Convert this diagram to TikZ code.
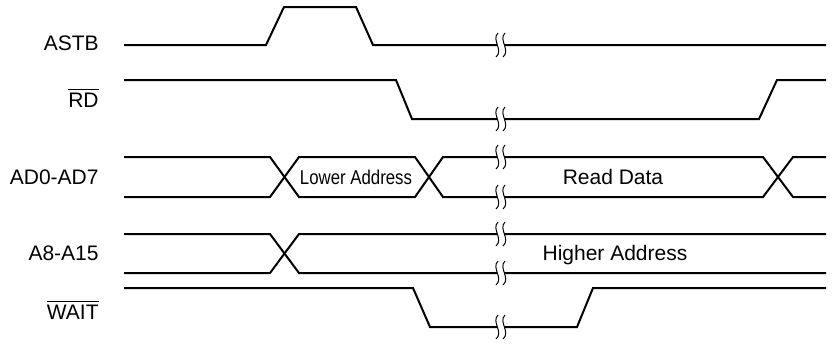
\documentclass[tikz,border=0pt]{standalone}
\usepackage{fontspec}
\setmainfont{Liberation Sans}
\tikzset{
signal/.style={
  line width=1pt,
  draw=black
},
breakmark/.style={
  line width=0.5pt,
  draw=black
},
siglabel/.style={
  font=\fontsize{10.5}{12}\selectfont,
  anchor=base east,
  inner sep=0pt
},
datalabel/.style={
  font=\fontsize{10.5}{12}\selectfont,
  anchor=base,
  inner sep=0pt
}
}
% break symbol on a signal line: x, y
\newcommand{\sigbreak}[2]{%
  \fill[white] (#1-3,#2-2) rectangle (#1+4,#2+2);
  \draw[breakmark] (#1-2,#2-12) .. controls (#1-9,#2-5) and (#1+4,#2+5) .. (#1-4,#2+12);
  \draw[breakmark] (#1+5,#2-12) .. controls (#1-2,#2-5) and (#1+11,#2+5) .. (#1+3,#2+12);
}

\begin{document}
\begin{tikzpicture}[x=0.5pt, y=-0.5pt]
  \useasboundingbox (0,0) rectangle (835,344);
  % Column positions
  \def\xStart{124}
  \def\xEnd{826}
  \def\xBrk{500}

  % Signal names
  \node[siglabel] (astb) at (99,50) {ASTB};
  \node[siglabel] (rd) at (99,107) {$\overline{\mbox{RD}}$};
  \node[siglabel] (ad) at (99,184) {AD0-AD7};
  \node[siglabel] (a8) at (99,260) {A8-A15};
  \node[siglabel] (wait) at (99,319) {$\overline{\mbox{WAIT}}$};

  % ASTB
  \draw[signal] (\xStart,45) -- (266,45) -- (284,7) -- (356,7) -- (373,45) -- (\xEnd,45);
  % RD
  \draw[signal] (\xStart,80) -- (396,80) -- (412,119) -- (759,119) -- (777,80) -- (\xEnd,80);
  % AD0-AD7 bus
  \draw[signal] (\xStart,157) -- (270,157) -- (299,197) -- (415,197) -- (443,157)
    -- (763,157) -- (793,197) -- (\xEnd,197);
  \draw[signal] (\xStart,197) -- (270,197) -- (299,157) -- (415,157) -- (443,197)
    -- (763,197) -- (793,157) -- (\xEnd,157);
  \node[datalabel, font=\fontsize{10}{12}\selectfont, xscale=0.84] (lowaddr) at (356,184) {Lower Address};
  \node[datalabel] (rdata) at (613,184) {Read Data};
  % A8-A15 bus
  \draw[signal] (\xStart,234) -- (270,234) -- (299,273) -- (\xEnd,273);
  \draw[signal] (\xStart,273) -- (270,273) -- (299,234) -- (\xEnd,234);
  \node[datalabel] (hiaddr) at (615,260) {Higher Address};
  % WAIT
  \draw[signal] (\xStart,288) -- (413,288) -- (430,327) -- (577,327) -- (593,288) -- (\xEnd,288);

  % Time breaks
  \foreach \y in {45,119,157,197,234,273,327} {
    \sigbreak{\xBrk}{\y}
  }
\end{tikzpicture}
\end{document}
